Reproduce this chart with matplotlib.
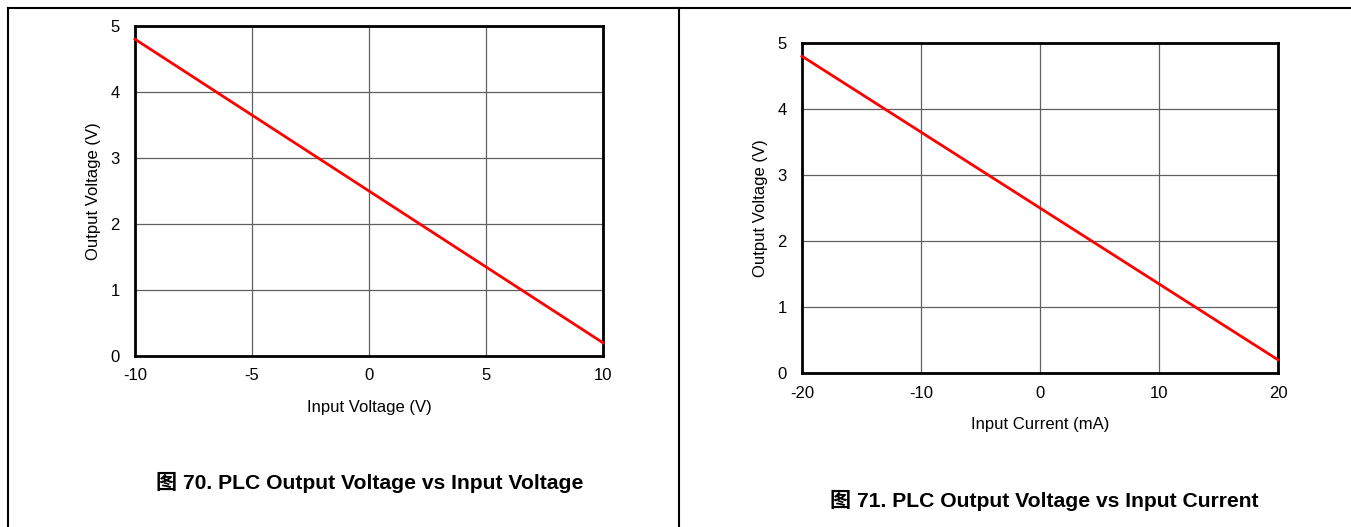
import matplotlib.pyplot as plt
from matplotlib.lines import Line2D

plt.rcParams['font.family'] = ['Liberation Sans', 'Noto Sans CJK SC', 'DejaVu Sans']
plt.rcParams['axes.unicode_minus'] = False

# data
vin = [-10, 10]
vout_v = [4.8, 0.2]
iin = [-20, 20]
vout_i = [4.8, 0.2]

W, H = 1351, 527
fig = plt.figure(figsize=(W / 100, H / 100), dpi=100)


def px(x0, y0, x1, y1):
    # pixel box -> figure fraction [left, bottom, width, height]
    return [x0 / W, 1 - y1 / H, (x1 - x0) / W, (y1 - y0) / H]


def panel(rect, x, y, xlim, xticks, xlabel):
    ax = fig.add_axes(rect)
    ax.plot(x, y, color='#ff0000', lw=2, clip_on=False, zorder=3)
    ax.set_xlim(*xlim)
    ax.set_ylim(0, 5)
    ax.set_xticks(xticks)
    ax.set_yticks(range(6))
    ax.grid(True, color='#606060', lw=0.9)
    ax.set_axisbelow(True)
    for s in ax.spines.values():
        s.set_linewidth(2)
        s.set_color('black')
    ax.tick_params(length=0, labelsize=12, pad=9)
    ax.tick_params(axis='y', pad=11)
    ax.set_xlabel(xlabel, fontsize=12, labelpad=12)
    ax.set_ylabel('Output Voltage (V)', fontsize=12, labelpad=7)
    return ax


panel(px(135, 26, 603, 356), vin, vout_v, (-10, 10), [-10, -5, 0, 5, 10],
      'Input Voltage (V)')
panel(px(802, 43, 1278, 373), iin, vout_i, (-20, 20), [-20, -10, 0, 10, 20],
      'Input Current (mA)')

fig.text(370 / W, 1 - 482 / H, '图 70. PLC Output Voltage vs Input Voltage',
         ha='center', va='center', fontsize=15.2, fontweight='bold')
fig.text(1044 / W, 1 - 500 / H, '图 71. PLC Output Voltage vs Input Current',
         ha='center', va='center', fontsize=15.2, fontweight='bold')

# frame lines
fig.add_artist(Line2D([8 / W, 1], [1 - 8 / H] * 2, color='black', lw=1.5))
fig.add_artist(Line2D([8 / W] * 2, [0, 1 - 8 / H], color='black', lw=1.5))
fig.add_artist(Line2D([679 / W] * 2, [0, 1 - 8 / H], color='black', lw=1.5))

fig.savefig('out.png', dpi=100)
